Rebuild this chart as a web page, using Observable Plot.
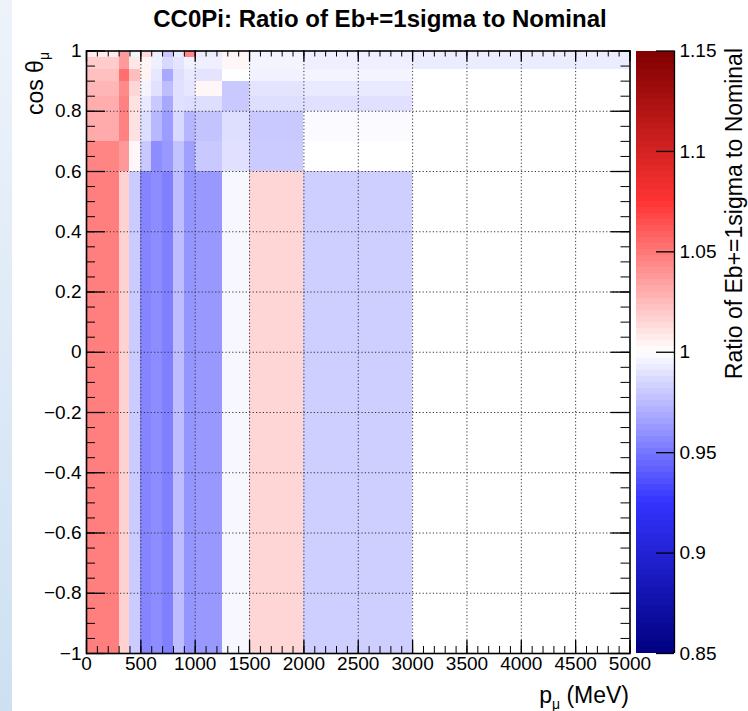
<!DOCTYPE html>
<html><head><meta charset="utf-8">
<script src="https://cdn.jsdelivr.net/npm/d3@7"></script>
<script src="https://cdn.jsdelivr.net/npm/@observablehq/plot@0.6"></script>
<style>
body{margin:0;background:#fff;}
#wrap{position:relative;width:748px;height:711px;overflow:hidden;font-family:"Liberation Sans",Arial,Helvetica,sans-serif;}
#stripe{position:absolute;left:0;top:0;width:12px;height:711px;background:linear-gradient(#eef3fa,#cde0f2);}
#main,#cbar{position:absolute;top:0;}
#main{left:0;} #cbar{left:630px;}
</style></head><body>
<div id="wrap"><div id="stripe"></div><div id="main"></div><div id="cbar"></div></div>
<script>
// ---- data ----
const cosEdges = [-1, 0.6, 0.7, 0.8, 0.85, 0.9, 0.94, 0.98, 1];
const pEdges = [0, 300, 400, 500, 600, 700, 800, 900, 1000, 1250, 1500, 2000, 3000, 5000];
const ratio_m100_060 = [1.047, 1.017, 0.981, 0.955, 0.958, 0.953, 0.976, 0.961, 0.962, 0.997, 1.015, 0.982, 1.000];
const ratio_060_070  = [1.045, 1.038, 1.003, 0.980, 0.958, 0.962, 0.978, 0.965, 0.980, 0.989, 0.981, 1.000, 1.000];
const ratio_070_080  = [1.031, 1.046, 1.011, 0.988, 0.974, 0.964, 0.986, 0.973, 0.978, 0.988, 0.980, 0.998, 1.000];
const ratio_080_085  = [1.030, 1.046, 1.011, 0.992, 0.980, 0.968, 0.989, 0.988, 0.988, 0.980, 0.988, 0.989, 1.000];
const ratio_085_090  = [1.027, 1.043, 1.015, 0.996, 0.989, 0.976, 0.989, 0.991, 1.003, 0.980, 0.990, 0.992, 1.000];
const ratio_090_094  = [1.023, 1.053, 1.024, 1.004, 0.991, 0.968, 0.988, 0.992, 0.990, 1.000, 0.995, 0.996, 1.000];
const ratio_094_098  = [1.019, 1.037, 1.009, 1.004, 0.994, 0.986, 0.990, 0.995, 0.994, 1.003, 0.996, 0.994, 0.993];
const ratio_098_100  = [1.007, 1.037, 0.996, 1.014, 0.994, 0.980, 0.993, 1.044, 0.993, 1.004, 0.996, 0.994, 0.993];
const ratioRows = [ratio_m100_060, ratio_060_070, ratio_070_080, ratio_080_085, ratio_085_090, ratio_090_094, ratio_094_098, ratio_098_100];

const xTickVals = [0, 500, 1000, 1500, 2000, 2500, 3000, 3500, 4000, 4500, 5000];
const xTickLabels = ["0", "500", "1000", "1500", "2000", "2500", "3000", "3500", "4000", "4500", "5000"];
const yTickVals = [1, 0.8, 0.6, 0.4, 0.2, 0, -0.2, -0.4, -0.6, -0.8, -1];
const yTickLabels = ["1", "0.8", "0.6", "0.4", "0.2", "0", "\u22120.2", "\u22120.4", "\u22120.6", "\u22120.8", "\u22121"];
const cbTickVals = [1.15, 1.1, 1.05, 1, 0.95, 0.9, 0.85];
const cbTickLabels = ["1.15", "1.1", "1.05", "1", "0.95", "0.9", "0.85"];
const paletteStops = [0.85, 0.925, 1, 1.075, 1.15];
const paletteColors = ["#000080", "#3333ff", "#ffffff", "#ff3333", "#800000"];

const cells = [];
ratioRows.forEach((row, i) => row.forEach((v, j) => cells.push({
  p1: pEdges[j], p2: pEdges[j + 1], c1: cosEdges[i], c2: cosEdges[i + 1], v
})));

// ---- layout ----
const FONT = '"Liberation Sans", Arial, Helvetica, sans-serif';
const W = 748, H = 711, mL = 86, mR = 118.5, mT = 50.5, mB = 58;
const plotW = W - mL - mR, plotH = H - mT - mB;
const colorScale = {type: "linear", domain: paletteStops, range: paletteColors, interpolate: "rgb", clamp: true};
const xMinor = d3.range(0, 5001, 100);
const yMinor = d3.range(-20, 21).map(i => i / 20);
const xGrid = xTickVals.filter(d => d > 0 && d < 5000);
const yGrid = yTickVals.filter(d => d > -1 && d < 1);
const gridStyle = {stroke: "#333", strokeWidth: 1, strokeDasharray: "1.2,2.2"};

const main = Plot.plot({
  width: W, height: H, marginLeft: mL, marginRight: mR, marginTop: mT, marginBottom: mB,
  style: {fontFamily: FONT, fontSize: "19px", background: "transparent", color: "black", overflow: "visible"},
  x: {domain: [0, 5000], axis: null},
  y: {domain: [-1, 1], axis: null},
  color: colorScale,
  marks: [
    Plot.rect(cells, {x1: "p1", x2: "p2", y1: "c1", y2: "c2", fill: "v", shapeRendering: "crispEdges"}),
    Plot.ruleX(xGrid, {x: d => d, ...gridStyle}),
    Plot.ruleY(yGrid, {y: d => d, ...gridStyle}),
    // bottom ticks
    Plot.ruleX(xMinor, {x: d => d, insetTop: plotH - 7, stroke: "black"}),
    Plot.ruleX(xTickVals, {x: d => d, insetTop: plotH - 13, stroke: "black", strokeWidth: 1.3}),
    // top ticks
    Plot.ruleX(xMinor, {x: d => d, insetBottom: plotH - 6, stroke: "black"}),
    Plot.ruleX(xTickVals, {x: d => d, insetBottom: plotH - 11, stroke: "black", strokeWidth: 1.3}),
    // left ticks
    Plot.ruleY(yMinor, {y: d => d, insetRight: plotW - 9, stroke: "black"}),
    Plot.ruleY(yTickVals, {y: d => d, insetRight: plotW - 19, stroke: "black", strokeWidth: 1.3}),
    // right ticks
    Plot.ruleY(yMinor, {y: d => d, insetLeft: plotW - 9, stroke: "black"}),
    Plot.ruleY(yTickVals, {y: d => d, insetLeft: plotW - 19, stroke: "black", strokeWidth: 1.3}),
    Plot.frame({stroke: "black", strokeWidth: 1.6}),
    Plot.text(xTickVals, {x: d => d, text: (d, i) => xTickLabels[i], frameAnchor: "bottom", dy: 16, fontSize: 19}),
    Plot.text(yTickVals, {y: d => d, text: (d, i) => yTickLabels[i], frameAnchor: "left", textAnchor: "end", dx: -5, fontSize: 19})
  ]
});
document.getElementById("main").appendChild(main);

const ms = d3.select(main);
ms.append("text").attr("x", 380).attr("y", 27).attr("text-anchor", "middle")
  .attr("font-family", FONT).attr("font-weight", "bold").attr("font-size", 24).attr("fill", "black")
  .text("CC0Pi: Ratio of Eb+=1sigma to Nominal");
const xt = ms.append("text").attr("x", 629).attr("y", 703).attr("text-anchor", "end")
  .attr("font-family", FONT).attr("font-size", 23).attr("fill", "black");
xt.append("tspan").text("p");
xt.append("tspan").attr("font-size", 14).attr("dy", 6).text("\u03bc");
xt.append("tspan").attr("dy", -6).text(" (MeV)");
const yt = ms.append("text").attr("transform", "translate(43,52) rotate(-90)").attr("text-anchor", "end")
  .attr("font-family", FONT).attr("font-size", 23).attr("fill", "black");
yt.append("tspan").text("cos \u03b8");
yt.append("tspan").attr("font-size", 14).attr("dy", 6).text("\u03bc");

// ---- colour bar ----
const cbN = 100;
const cbBands = d3.range(cbN).map(i => ({lo: 0.85 + 0.3 * i / cbN, hi: 0.85 + 0.3 * (i + 1) / cbN}));
const barW = 38;
const cb = Plot.plot({
  width: 118, height: H, marginLeft: 6, marginRight: 118 - 6 - barW, marginTop: mT, marginBottom: mB,
  style: {fontFamily: FONT, fontSize: "19px", background: "transparent", color: "black", overflow: "visible"},
  x: {domain: [0, 1], axis: null},
  y: {domain: [0.85, 1.15], axis: null},
  color: colorScale,
  marks: [
    Plot.rect(cbBands, {x1: 0, x2: 1, y1: "lo", y2: "hi", fill: d => (d.lo + d.hi) / 2, shapeRendering: "crispEdges"}),
    Plot.ruleX([1], {x: d => d, stroke: "black", strokeWidth: 1.3}),
    Plot.ruleY(cbTickVals, {y: d => d, insetLeft: barW - 18, stroke: "black", strokeWidth: 1.3}),
    Plot.text(cbTickVals, {y: d => d, x: 1, dx: 5, textAnchor: "start", text: (d, i) => cbTickLabels[i], fontSize: 19})
  ]
});
document.getElementById("cbar").appendChild(cb);
d3.select(cb).append("text").attr("transform", "translate(112,48) rotate(-90)").attr("text-anchor", "end")
  .attr("font-family", FONT).attr("font-size", 23).attr("fill", "black")
  .text("Ratio of Eb+=1sigma to Nominal");
</script>
</body></html>
